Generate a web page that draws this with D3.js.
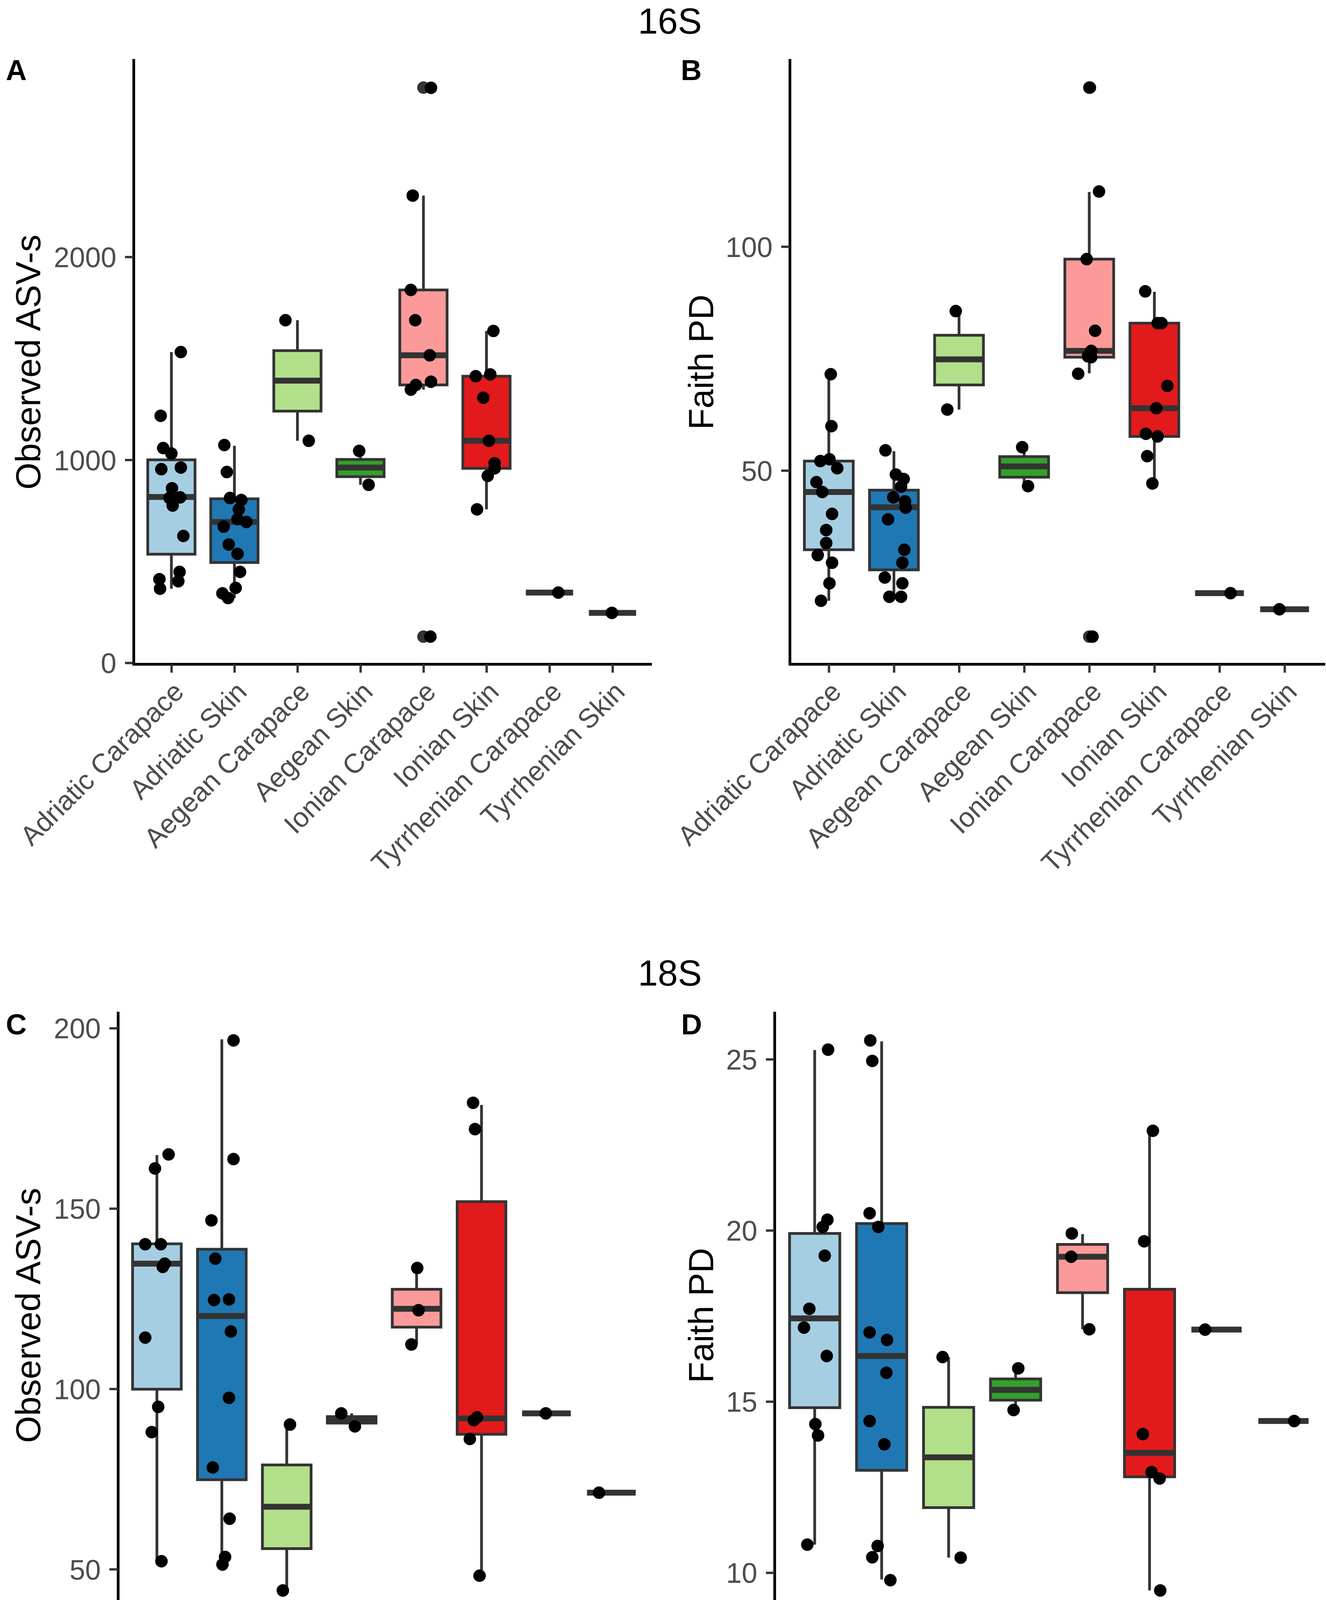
<!DOCTYPE html>
<html>
<head>
<meta charset="utf-8">
<script src="https://cdn.jsdelivr.net/npm/d3@7"></script>
<style>
  body { margin: 0; background: #fff; }
  text { font-family: "Liberation Sans", Arial, sans-serif; }
</style>
</head>
<body>
<script>
// groups on the x axis, same order in every panel
const groups = ["Adriatic Carapace", "Adriatic Skin", "Aegean Carapace", "Aegean Skin",
                "Ionian Carapace", "Ionian Skin", "Tyrrhenian Carapace", "Tyrrhenian Skin"];
const fills = ["#A6CEE3", "#1F78B4", "#B2DF8A", "#33A02C", "#FB9A99", "#E31A1C", "#FDBF6F", "#FF7F00"];

// ---- 16S observed ASVs (panel A) ----
const asv16 = [
  [1531, 1217, 1058, 1031, 954, 962, 860, 812, 815, 775, 625, 412, 448, 402, 365],
  [1073, 940, 812, 802, 756, 708, 694, 671, 583, 537, 448, 369, 342, 319],
  [1688, 1094],
  [1044, 877],
  [2833, 2302, 1837, 1688, 1515, 1385, 1369, 1346, 129],
  [1635, 1421, 1412, 1306, 1094, 983, 958, 921, 756],
  [346],
  [246]
];
const asv16Jitter = [
  [0.15, -0.17, -0.13, 0.0, -0.16, 0.15, 0.01, -0.03, 0.14, 0.02, 0.19, -0.19, 0.13, 0.11, -0.18],
  [-0.16, -0.12, -0.07, 0.11, 0.07, 0.05, 0.19, -0.17, -0.09, 0.05, 0.09, 0.02, -0.19, -0.10],
  [-0.19, 0.18],
  [-0.02, 0.13],
  [0.12, -0.17, -0.2, -0.13, 0.10, 0.12, -0.12, -0.2, 0.11],
  [0.11, 0.06, -0.17, -0.05, 0.04, 0.13, 0.13, 0.02, -0.15],
  [0.14],
  [-0.01]
];
// [lower whisker, q1, median, q3, upper whisker]
const asv16Box = [
  [365, 535, 817, 1000, 1531],
  [319, 494, 694, 808, 1069],
  [1094, 1240, 1390, 1538, 1688],
  [877, 917, 962, 1002, 1044],
  [1346, 1369, 1515, 1837, 2302],
  [756, 958, 1094, 1412, 1635],
  [346, 346, 346, 346, 346],
  [246, 246, 246, 246, 246]
];
const asv16Out = [[], [], [], [], [2834, 129], [], [], []];
const asv16Ticks = [0, 1000, 2000];

// ---- 16S Faith PD (panel B) ----
const pd16 = [
  [71.5, 59.9, 52.1, 52.5, 50.5, 47.4, 45.2, 40.3, 36.7, 33.8, 31.1, 29.4, 24.8, 20.9],
  [54.5, 49.1, 48.1, 46.4, 44.0, 43.1, 41.7, 39.1, 32.3, 29.4, 26.1, 24.8, 21.8, 21.8],
  [85.6, 63.6],
  [55.2, 46.5],
  [135.5, 112.3, 97.2, 81.2, 76.7, 75.5, 75.3, 71.6, 12.9],
  [90.0, 82.9, 82.9, 68.9, 63.9, 58.2, 57.6, 53.2, 47.1],
  [22.6],
  [19.0]
];
const pd16Jitter = [
  [0.03, 0.04, -0.13, 0.01, 0.13, -0.19, -0.10, 0.05, -0.04, -0.04, -0.17, 0.05, 0.01, -0.12],
  [-0.13, 0.03, 0.15, 0.11, -0.01, 0.17, 0.18, -0.09, 0.16, 0.13, -0.14, 0.13, -0.07, 0.11],
  [-0.05, -0.18],
  [-0.03, 0.06],
  [0.01, 0.15, -0.04, 0.09, 0.03, -0.02, 0.03, -0.17, 0.05],
  [-0.14, 0.05, 0.11, 0.20, 0.03, -0.13, 0.05, -0.11, -0.03],
  [0.17],
  [-0.08]
];
const pd16Box = [
  [20.9, 32.3, 45.2, 52.1, 71.5],
  [21.8, 27.8, 41.8, 45.6, 54.3],
  [63.6, 69.1, 74.8, 80.2, 85.6],
  [46.5, 48.5, 50.9, 53.1, 55.2],
  [71.7, 75.3, 76.7, 97.2, 112.2],
  [47.2, 57.6, 63.9, 82.9, 89.9],
  [22.6, 22.6, 22.6, 22.6, 22.6],
  [19.0, 19.0, 19.0, 19.0, 19.0]
];
const pd16Out = [[], [], [], [], [135.5, 12.9], [], [], []];
const pd16Ticks = [50, 100];

// ---- 18S observed ASVs (panel C) ----
const asv18 = [
  [165.0, 161.1, 140.1, 140.1, 134.7, 133.8, 114.2, 95.0, 88.0, 52.2],
  [196.6, 163.7, 146.7, 136.1, 124.6, 124.8, 115.9, 97.5, 78.2, 64.0, 53.4, 51.3],
  [90.1, 44.1],
  [93.2, 89.6],
  [133.5, 121.8, 112.3],
  [179.3, 172.0, 92.1, 91.3, 86.1, 48.2],
  [93.2],
  [71.2]
];
const asv18Jitter = [
  [0.18, -0.03, -0.18, 0.06, 0.12, 0.09, -0.18, 0.02, -0.08, 0.07],
  [0.18, 0.18, -0.16, -0.10, -0.12, 0.11, 0.14, 0.11, -0.14, 0.12, 0.05, 0.01],
  [0.05, -0.06],
  [-0.16, 0.05],
  [0.01, 0.03, -0.08],
  [-0.13, -0.10, -0.07, -0.12, -0.18, -0.03],
  [-0.01],
  [-0.19]
];
const asv18Box = [
  [52.2, 99.9, 134.7, 140.2, 164.8],
  [51.3, 74.8, 120.2, 138.7, 196.9],
  [44.1, 55.7, 67.3, 78.9, 90.1],
  [89.6, 90.5, 91.4, 92.3, 93.2],
  [112.3, 117.1, 122.2, 127.6, 133.5],
  [48.2, 87.4, 91.8, 151.9, 178.7],
  [93.2, 93.2, 93.2, 93.2, 93.2],
  [71.2, 71.2, 71.2, 71.2, 71.2]
];
const asv18Out = [[], [], [], [], [], [], [], []];
const asv18Ticks = [50, 100, 150, 200];

// ---- 18S Faith PD (panel D) ----
const pd18 = [
  [25.28, 20.31, 20.10, 19.26, 17.71, 17.16, 16.33, 14.34, 14.01, 10.82],
  [25.55, 24.95, 20.50, 20.10, 17.02, 16.80, 15.84, 14.43, 13.75, 10.78, 10.45, 9.78],
  [16.30, 10.44],
  [15.97, 14.75],
  [19.91, 19.23, 17.11],
  [22.91, 19.68, 14.05, 12.94, 12.75, 9.48],
  [17.10],
  [14.43]
];
const pd18Jitter = [
  [0.20, 0.19, 0.12, 0.15, -0.08, -0.16, 0.18, 0.01, 0.05, -0.11],
  [-0.17, -0.14, -0.18, -0.05, -0.18, 0.08, 0.07, -0.18, 0.04, -0.06, -0.14, 0.13],
  [-0.09, 0.18],
  [0.04, -0.03],
  [-0.16, -0.17, 0.10],
  [0.05, -0.08, -0.10, 0.03, 0.15, 0.16],
  [-0.17],
  [0.16]
];
const pd18Box = [
  [10.82, 14.82, 17.43, 19.91, 25.27],
  [9.80, 12.99, 16.33, 20.20, 25.52],
  [10.44, 11.90, 13.37, 14.83, 16.30],
  [14.75, 15.04, 15.34, 15.66, 15.97],
  [17.11, 18.18, 19.23, 19.59, 19.89],
  [9.48, 12.80, 13.50, 18.28, 22.91],
  [17.10, 17.10, 17.10, 17.10, 17.10],
  [14.43, 14.43, 14.43, 14.43, 14.43]
];
const pd18Out = [[], [], [], [], [], [], [], []];
const pd18Ticks = [10, 15, 20, 25];

const W = 3395, H = 4697;
const svg = d3.select("body").append("svg")
    .attr("width", W)
    .attr("height", H);
svg.append("rect").attr("width", W).attr("height", H).attr("fill", "#fff");

const tickFont = 72, xTickFont = 70, titleFont = 89;

function panel(p) {
    const g = svg.append("g");

    const x = d3.scalePoint()
        .domain(groups)
        .range([p.left, p.right])
        .padding(0.6);
    const step = x.step();

    // y domain from the data, padded 5% like ggplot
    const all = d3.merge(p.values.concat(p.outliers));
    const [lo, hi] = d3.extent(all);
    const pad = (hi - lo) * 0.05;
    const y = d3.scaleLinear()
        .domain([lo - pad, hi + pad])
        .range([p.bottom, p.top]);

    const bw = 0.75 * step;

    // boxes
    groups.forEach((grp, i) => {
        const [wlo, q1, med, q3, whi] = p.box[i];
        const cx = x(grp);
        const bg = g.append("g");
        bg.append("line")
            .attr("x1", cx).attr("x2", cx)
            .attr("y1", y(q3)).attr("y2", y(whi))
            .attr("stroke", "#333333").attr("stroke-width", 7);
        bg.append("line")
            .attr("x1", cx).attr("x2", cx)
            .attr("y1", y(q1)).attr("y2", y(wlo))
            .attr("stroke", "#333333").attr("stroke-width", 7);
        bg.append("rect")
            .attr("x", cx - bw / 2).attr("width", bw)
            .attr("y", y(q3)).attr("height", Math.max(0, y(q1) - y(q3)))
            .attr("fill", fills[i])
            .attr("stroke", "#333333").attr("stroke-width", 7);
        bg.append("line")
            .attr("x1", cx - bw / 2).attr("x2", cx + bw / 2)
            .attr("y1", y(med)).attr("y2", y(med))
            .attr("stroke", "#333333").attr("stroke-width", 15);
        p.outliers[i].forEach(v => {
            bg.append("circle")
                .attr("cx", cx).attr("cy", y(v)).attr("r", 16)
                .attr("fill", "#333333");
        });
    });

    // jittered points
    groups.forEach((grp, i) => {
        g.append("g").selectAll("circle")
            .data(p.values[i])
            .join("circle")
            .attr("cx", (d, j) => x(grp) + p.jitter[i][j] * step)
            .attr("cy", d => y(d))
            .attr("r", 16)
            .attr("fill", "#000");
    });

    // axes
    const yAxis = g.append("g")
        .attr("transform", "translate(" + p.left + ",0)")
        .call(d3.axisLeft(y).tickValues(p.ticks).tickFormat(d3.format("d"))
            .tickSize(22).tickSizeOuter(0).tickPadding(22));
    const xAxis = g.append("g")
        .attr("transform", "translate(0," + p.bottom + ")")
        .call(d3.axisBottom(x).tickSize(22).tickSizeOuter(0));

    [yAxis, xAxis].forEach(a => {
        a.select(".domain").attr("stroke", "#000").attr("stroke-width", 7)
            .attr("stroke-linecap", "square");
        a.selectAll(".tick line").attr("stroke", "#333333").attr("stroke-width", 6);
        a.selectAll(".tick text")
            .attr("fill", "#4D4D4D")
            .style("font-size", tickFont + "px")
            .style("font-family", '"Liberation Sans", Arial, sans-serif');
    });
    yAxis.selectAll(".tick text").attr("dy", "0.36em");
    xAxis.selectAll(".tick text")
        .style("font-size", xTickFont + "px")
        .attr("y", 0)
        .attr("dy", "0.71em")
        .attr("text-anchor", "end")
        .attr("transform", "translate(0,40) rotate(-45)");

    // y title
    g.append("text")
        .attr("transform", "translate(" + p.titleX + "," + ((p.top + p.bottom) / 2) + ") rotate(-90)")
        .attr("text-anchor", "middle")
        .style("font-size", titleFont + "px")
        .attr("fill", "#000")
        .text(p.title);

    // panel letter
    g.append("text")
        .attr("x", p.letterX).attr("y", p.letterY)
        .style("font-size", "74px")
        .style("font-weight", "bold")
        .attr("fill", "#000")
        .text(p.letter);
}

// headings
svg.append("text").attr("x", 1715).attr("y", 86)
    .attr("text-anchor", "middle").style("font-size", "92px").text("16S");
svg.append("text").attr("x", 1715).attr("y", 2523)
    .attr("text-anchor", "middle").style("font-size", "92px").text("18S");

panel({ letter: "A", letterX: 15, letterY: 205, title: "Observed ASV-s", titleX: 103,
        left: 342, right: 1665, top: 154, bottom: 1700,
        values: asv16, jitter: asv16Jitter, box: asv16Box, outliers: asv16Out, ticks: asv16Ticks });
panel({ letter: "B", letterX: 1743, letterY: 205, title: "Faith PD", titleX: 1826,
        left: 2022, right: 3389, top: 154, bottom: 1700,
        values: pd16, jitter: pd16Jitter, box: pd16Box, outliers: pd16Out, ticks: pd16Ticks });
panel({ letter: "C", letterX: 15, letterY: 2648, title: "Observed ASV-s", titleX: 103,
        left: 302, right: 1665, top: 2593, bottom: 4142,
        values: asv18, jitter: asv18Jitter, box: asv18Box, outliers: asv18Out, ticks: asv18Ticks });
panel({ letter: "D", letterX: 1744, letterY: 2648, title: "Faith PD", titleX: 1826,
        left: 1983, right: 3389, top: 2593, bottom: 4142,
        values: pd18, jitter: pd18Jitter, box: pd18Box, outliers: pd18Out, ticks: pd18Ticks });
</script>
</body>
</html>
